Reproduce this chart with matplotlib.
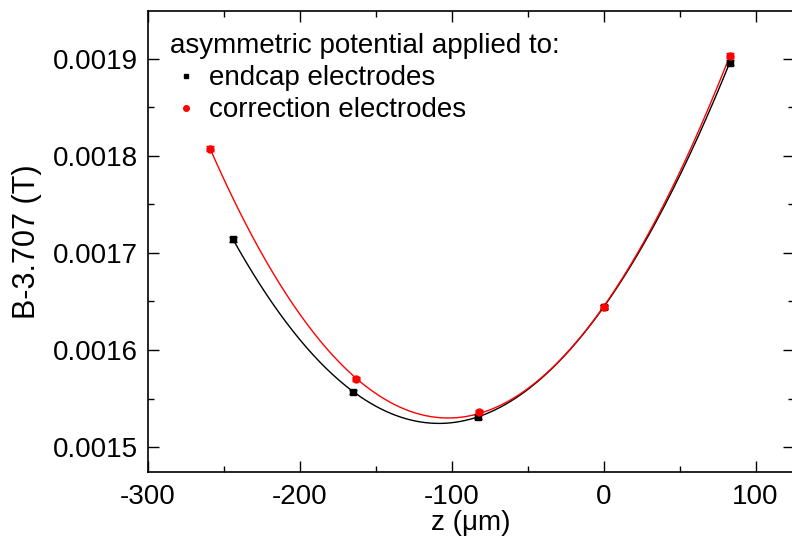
import matplotlib
matplotlib.use('Agg')
import matplotlib.pyplot as plt
from matplotlib.lines import Line2D
from matplotlib.ticker import MultipleLocator, FormatStrFormatter
import numpy as np

plt.rcParams['font.family'] = ['Liberation Sans', 'DejaVu Sans']
plt.rcParams['axes.unicode_minus'] = False

# asymmetric potential applied to endcap electrodes
z_endcap = [-244, -165, -83, 0, 83]
b_endcap = [0.0017140, 0.0015570, 0.0015313, 0.0016440, 0.0018962]
err_endcap = [2.5e-6, 2e-6, 2e-6, 2e-6, 2.5e-6]

# asymmetric potential applied to correction electrodes
z_corr = [-259, -163, -82, 0, 83]
b_corr = [0.0018072, 0.0015701, 0.0015359, 0.0016440, 0.0019031]
err_corr = [2.5e-6, 2e-6, 2e-6, 2e-6, 2.5e-6]

x_ticks = [-300, -200, -100, 0, 100]
y_ticks = [0.0015, 0.0016, 0.0017, 0.0018, 0.0019]

fig = plt.figure(figsize=(7.92, 5.4), dpi=100)
ax = fig.add_axes([148/792, 68/540, (794-148)/792, (472-11)/540])

for z, b, err, col, mk in [(z_endcap, b_endcap, err_endcap, 'black', 's'),
                            (z_corr, b_corr, err_corr, 'red', 'o')]:
    coef = np.polyfit(z, b, 3)
    zz = np.linspace(min(z), max(z), 300)
    ax.plot(zz, np.polyval(coef, zz), color=col, lw=1.0)
    ax.errorbar(z, b, yerr=err, fmt=mk, color=col, ms=5, capsize=3,
                elinewidth=1, capthick=1)

ax.set_xlim(-300, 125.3)
ax.set_ylim(0.0014743, 0.0019493)
ax.set_xticks(x_ticks)
ax.set_yticks(y_ticks)
ax.xaxis.set_minor_locator(MultipleLocator(50))
ax.yaxis.set_minor_locator(MultipleLocator(0.00005))
ax.yaxis.set_major_formatter(FormatStrFormatter('%.4f'))
ax.tick_params(which='both', direction='in', top=True, right=True,
               labelsize=20, width=1)
ax.tick_params(which='major', length=8)
ax.tick_params(which='minor', length=4.5)
ax.tick_params(axis='x', pad=9)
ax.tick_params(axis='y', pad=7)
for sp in ax.spines.values():
    sp.set_linewidth(1.2)

ax.set_xlabel('z (μm)', fontsize=20, labelpad=0)
ax.set_ylabel('B-3.707 (T)', fontsize=22, labelpad=8)

handles = [Line2D([], [], ls='none', marker='s', color='black', ms=3.5),
           Line2D([], [], ls='none', marker='o', color='red', ms=4)]
ax.legend(handles, ['endcap electrodes', 'correction electrodes'],
          title='asymmetric potential applied to:', loc='upper left',
          frameon=False, alignment='left', fontsize=20, title_fontsize=20,
          handlelength=1.15, handletextpad=0.25, labelspacing=0.22,
          borderaxespad=0.3, borderpad=0.5)

fig.savefig('out.png', dpi=100)
